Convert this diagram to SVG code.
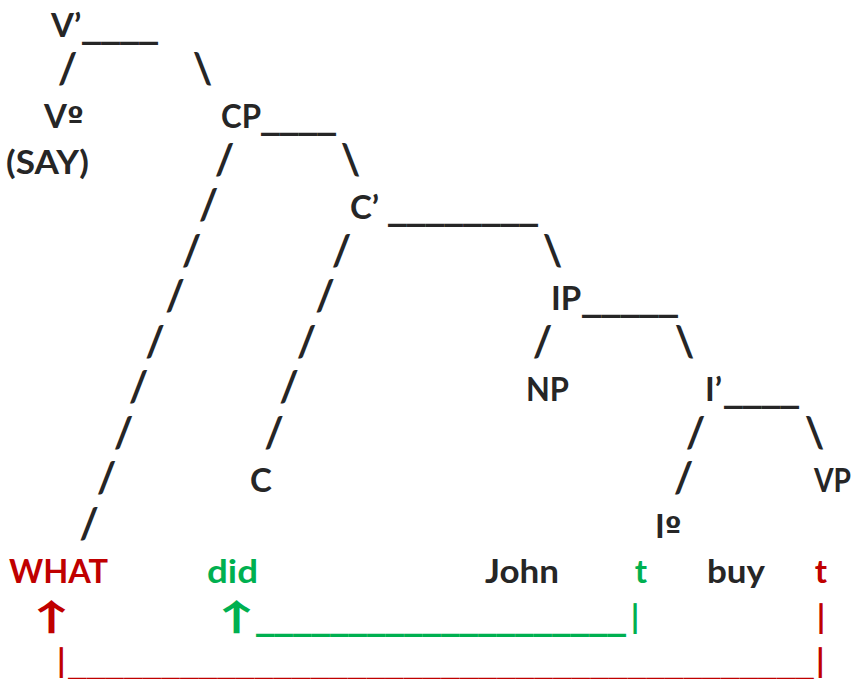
<svg xmlns="http://www.w3.org/2000/svg" width="856" height="679" viewBox="0 0 856 679">
<style>
text{font-family:Lato,"Open Sans","Liberation Sans",sans-serif;font-weight:700;font-size:33px;fill:#262626}
.c{text-anchor:middle}
.r{fill:#C00000}
.g{fill:#00B050}
.u{font-family:"DejaVu Sans",sans-serif;font-size:33px;font-weight:700}
.o{font-family:"DejaVu Sans",sans-serif;font-size:30px}
.a{font-family:"Noto Sans CJK SC","Noto Sans CJK JP","DejaVu Sans",sans-serif;font-size:36px;font-weight:700;letter-spacing:-20px}
.s{font-size:42px}
</style>
<rect width="856" height="679" fill="#ffffff"/>
<g id="nodes">
<g id="n-Vbar"><text x="51" y="37"><tspan>V’</tspan><tspan class="u" x="82" textLength="76" lengthAdjust="spacingAndGlyphs">____</tspan></text></g>
<g id="n-V0"><text x="44" y="128"><tspan>V</tspan><tspan class="o">º</tspan></text></g>
<g id="n-SAY"><text x="6" y="173.5" textLength="83" lengthAdjust="spacingAndGlyphs">(SAY)</text></g>
<g id="n-CP"><text x="221" y="128"><tspan textLength="40" lengthAdjust="spacingAndGlyphs">CP</tspan><tspan class="u" x="261" textLength="75" lengthAdjust="spacingAndGlyphs">____</tspan></text></g>
<g id="n-Cbar"><text x="350" y="219"><tspan>C’ </tspan><tspan class="u" x="388" textLength="150" lengthAdjust="spacingAndGlyphs">________</tspan></text></g>
<g id="n-IP"><text x="551" y="310"><tspan>IP</tspan><tspan class="u" x="582" textLength="96" lengthAdjust="spacingAndGlyphs">_____</tspan></text></g>
<g id="n-NP"><text x="526" y="401" textLength="43" lengthAdjust="spacingAndGlyphs">NP</text></g>
<g id="n-Ibar"><text x="705" y="401"><tspan>I’</tspan><tspan class="u" x="724" textLength="75" lengthAdjust="spacingAndGlyphs">____</tspan></text></g>
<g id="n-C"><text x="250" y="492">C</text></g>
<g id="n-VP"><text x="814" y="492" textLength="37" lengthAdjust="spacingAndGlyphs">VP</text></g>
<g id="n-I0"><text x="655" y="537.5"><tspan>I</tspan><tspan class="o">º</tspan></text></g>
<g id="n-WHAT"><text class="r" x="9" y="583" textLength="99" lengthAdjust="spacingAndGlyphs">WHAT</text></g>
<g id="n-did"><text class="g" x="207" y="583" textLength="51" lengthAdjust="spacingAndGlyphs">did</text></g>
<g id="n-John"><text x="485" y="583" textLength="74" lengthAdjust="spacingAndGlyphs">John</text></g>
<g id="n-t1"><text class="g c" x="641" y="583">t</text></g>
<g id="n-buy"><text x="707" y="583" textLength="58" lengthAdjust="spacingAndGlyphs">buy</text></g>
<g id="n-t2"><text class="r c" x="821" y="583">t</text></g>
</g>
<g id="connectors">
<text class="c s" x="67.5" y="82.5">/</text>
<text class="c s" x="202.5" y="82.5">\</text>
<text class="c s" x="224.5" y="173.5">/</text>
<text class="c s" x="350.5" y="173.5">\</text>
<text class="c s" x="208.5" y="219">/</text>
<text class="c s" x="191.5" y="264.5">/</text>
<text class="c s" x="341.5" y="264.5">/</text>
<text class="c s" x="552.5" y="264.5">\</text>
<text class="c s" x="175" y="310">/</text>
<text class="c s" x="325" y="310">/</text>
<text class="c s" x="155" y="355.5">/</text>
<text class="c s" x="306.5" y="355.5">/</text>
<text class="c s" x="542.5" y="355.5">/</text>
<text class="c s" x="684.5" y="355.5">\</text>
<text class="c s" x="138.5" y="401">/</text>
<text class="c s" x="289" y="401">/</text>
<text class="c s" x="123.5" y="446.5">/</text>
<text class="c s" x="274" y="446.5">/</text>
<text class="c s" x="695.5" y="446.5">/</text>
<text class="c s" x="814.5" y="446.5">\</text>
<text class="c s" x="106.5" y="492">/</text>
<text class="c s" x="683.5" y="492">/</text>
<text class="c s" x="89" y="537.5">/</text>
<text class="r a" transform="scale(1.6,1)" x="14.2" y="631">↑</text>
<text class="g a" transform="scale(1.6,1)" x="129.8" y="631">↑</text>
<text class="g u" x="256" y="628.5" textLength="370" lengthAdjust="spacingAndGlyphs">____________________</text>
<text class="g c" x="635" y="628.5">|</text>
<text class="r c" x="821" y="628.5">|</text>
<text class="r" x="57" y="673"><tspan>|</tspan><tspan class="u" x="68" y="672.5" textLength="746" lengthAdjust="spacingAndGlyphs">________________________________________</tspan><tspan x="816" y="673">|</tspan></text>
</g>
</svg>
